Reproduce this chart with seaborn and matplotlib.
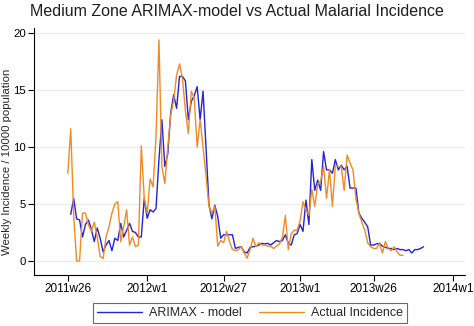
import numpy as np
import pandas as pd
import matplotlib
matplotlib.use("Agg")
import matplotlib.pyplot as plt
import seaborn as sns

# Weekly series (Stata weekly dates); week index counted from 2011w1 = 0
actual_start = 25   # 2011w26
model_start = 26    # 2011w27

actual = [7.7, 11.6, 4.0, 0.0, 0.0, 4.2, 4.2, 3.2, 2.6, 3.4,
          2.1, 0.4, 0.2, 2.1, 3.0, 4.2, 5.0, 5.2, 1.7, 3.0,
          4.5, 1.4, 2.1, 1.25, 1.4, 10.1, 5.5, 4.2, 7.2, 6.5,
          10.9, 19.4, 8.3, 6.8, 10.0, 12.8, 14.1, 16.3, 17.3, 16.0,
          13.2, 11.2, 14.9, 14.3, 10.0, 12.4, 10.0, 7.5, 4.8, 4.2,
          4.8, 1.3, 1.8, 1.6, 2.6, 1.7, 1.0, 0.9, 1.0, 1.25,
          0.7, 0.25, 1.0, 2.0, 1.25, 1.6, 1.4, 1.4, 1.3, 1.3,
          1.1, 1.3, 1.5, 2.1, 4.0, 1.0, 2.4, 2.7, 2.7, 3.5,
          5.2, 4.5, 4.0, 6.3, 4.8, 6.8, 7.0, 8.3, 5.5, 8.0,
          4.8, 8.4, 8.3, 8.3, 6.2, 9.3, 8.6, 8.0, 5.5, 4.2,
          3.4, 2.7, 1.6, 1.25, 1.1, 1.1, 1.55, 0.7, 1.7, 1.1,
          0.9, 1.25, 0.8, 0.5, 0.5]

model = [4.1, 5.5, 3.7, 3.6, 2.1, 3.2, 3.6, 2.8, 1.7, 2.9,
         2.0, 0.8, 1.4, 1.8, 0.9, 2.0, 1.8, 3.3, 2.1, 2.7,
         3.3, 2.6, 2.5, 2.1, 2.1, 5.5, 3.75, 4.5, 4.3, 4.6,
         8.9, 12.4, 8.3, 9.4, 13.0, 14.6, 13.4, 16.2, 16.2, 15.8,
         12.4, 14.0, 14.5, 15.3, 12.4, 14.9, 10.0, 5.0, 3.7, 4.9,
         3.9, 2.0, 2.3, 2.3, 2.3, 2.3, 1.1, 1.2, 1.25, 0.8,
         0.7, 1.2, 1.25, 1.3, 1.4, 1.55, 1.5, 1.55, 1.4, 1.6,
         1.8, 1.7, 1.8, 2.3, 1.55, 1.4, 2.3, 2.4, 3.2, 2.6,
         5.35, 3.2, 8.9, 6.2, 7.1, 6.2, 9.6, 8.0, 8.0, 7.7,
         8.9, 8.0, 8.4, 8.0, 8.3, 6.4, 6.4, 6.4, 4.2, 3.75,
         3.4, 3.0, 1.4, 1.4, 1.5, 1.55, 1.3, 1.2, 1.1, 1.1,
         1.0, 1.1, 1.0, 1.0, 0.9, 1.0, 0.7, 1.0, 1.0, 1.1,
         1.25]

tick_weeks = [25, 52, 78, 104, 129, 156]
tick_labels = ["2011w26", "2012w1", "2012w27", "2013w1", "2013w26", "2014w1"]
y_ticks = [0, 5, 10, 15, 20]

df_model = pd.DataFrame({"week": np.arange(model_start, model_start + len(model)),
                         "value": model})
df_actual = pd.DataFrame({"week": np.arange(actual_start, actual_start + len(actual)),
                          "value": actual})

sns.set_theme(style="white")
plt.rcParams["font.family"] = ["Liberation Sans", "DejaVu Sans"]

fig = plt.figure(figsize=(4.74, 3.26), dpi=100)
ax = fig.add_axes([34 / 474, 1 - 275 / 326, (465 - 34) / 474, (275 - 28) / 326])

blue = "#2323d8"
orange = "#f08a24"
sns.lineplot(data=df_model, x="week", y="value", ax=ax, color=blue,
             linewidth=1.0, label="ARIMAX - model")
sns.lineplot(data=df_actual, x="week", y="value", ax=ax, color=orange,
             linewidth=1.0, label="Actual Incidence")

ax.set_xlim(13.5, 160.1)
ax.set_ylim(-1.23, 20.45)
ax.set_xticks(tick_weeks)
ax.set_xticklabels(tick_labels, fontsize=8.5)
ax.set_yticks(y_ticks)
ax.set_yticklabels([str(v) for v in y_ticks], fontsize=8.2)
ax.set_xlabel("")
ax.set_ylabel("Weekly Incidence / 10000 population", fontsize=8.2)
ax.yaxis.set_label_coords((12 - 34) / 431, 0.46)
ax.yaxis.grid(True, color="#eaeaea", linewidth=0.8)
ax.xaxis.grid(False)
for s in ["top", "right"]:
    ax.spines[s].set_visible(False)
for s in ["left", "bottom"]:
    ax.spines[s].set_color("black")
    ax.spines[s].set_linewidth(0.8)
ax.tick_params(axis="both", which="both", direction="out", length=4, width=0.8,
               color="black", bottom=True, left=True, pad=2, labelcolor="black")

fig.text(0.5, 1 - 11 / 326, "Medium Zone ARIMAX-model vs Actual Malarial Incidence",
         ha="center", va="center", fontsize=11.5, color="#1e1e1e")

leg = ax.legend(loc="center", bbox_to_anchor=(250 / 474, 1 - 313 / 326),
                bbox_transform=fig.transFigure, ncol=2, frameon=True,
                fontsize=9, handlelength=3.6, columnspacing=1.4,
                borderpad=0.35, fancybox=False, handletextpad=0.55)
leg.get_frame().set_edgecolor("#444444")
leg.get_frame().set_linewidth(0.8)

fig.savefig("out.png", dpi=100, facecolor="white")
